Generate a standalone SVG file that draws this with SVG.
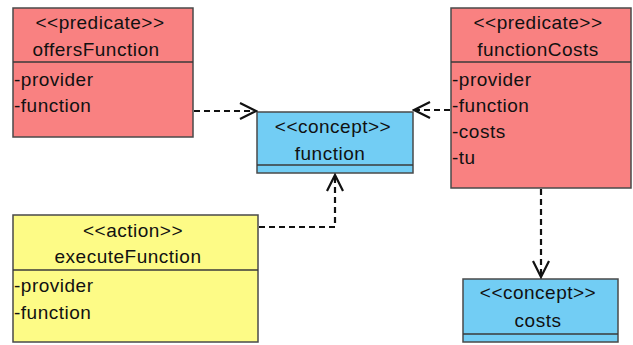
<svg xmlns="http://www.w3.org/2000/svg" width="633" height="345" viewBox="0 0 633 345">
  <style>
    .box { stroke: #4a4a4a; stroke-width: 1.5; }
    .pred { fill: #f98181; }
    .concept { fill: #72cdf4; }
    .action { fill: #fdfb86; }
    .sep { stroke: #3a3a3a; stroke-width: 1.5; fill: none; }
    text { font-family: "Liberation Sans", Arial, sans-serif; font-size: 19px; letter-spacing: 0.5px; fill: #111; }
    .c { text-anchor: middle; }
    .dep { stroke: #111; stroke-width: 2.2; stroke-dasharray: 6 4; fill: none; }
    .head { stroke: #111; stroke-width: 2.2; fill: none; }
  </style>
  <defs>
    <marker id="open" viewBox="0 0 20 20" refX="18" refY="10" markerWidth="20" markerHeight="20" markerUnits="userSpaceOnUse" orient="auto">
      <path d="M2 2 L18 10 L2 18" class="head"/>
    </marker>
  </defs>

  <g id="offersFunction">
    <rect class="box pred" x="13" y="8" width="180" height="129"/>
    <line class="sep" x1="13" y1="62" x2="193" y2="62"/>
    <text class="c" x="100" y="29">&lt;&lt;predicate&gt;&gt;</text>
    <text class="c" x="96" y="56">offersFunction</text>
    <text x="14" y="86">-provider</text>
    <text x="14" y="112">-function</text>
  </g>

  <g id="functionCosts">
    <rect class="box pred" x="451" y="8" width="180" height="180"/>
    <line class="sep" x1="451" y1="62" x2="631" y2="62"/>
    <text class="c" x="538" y="29">&lt;&lt;predicate&gt;&gt;</text>
    <text class="c" x="538" y="56">functionCosts</text>
    <text x="452" y="86">-provider</text>
    <text x="452" y="112">-function</text>
    <text x="452" y="138">-costs</text>
    <text x="452" y="164">-tu</text>
  </g>

  <g id="function">
    <rect class="box concept" x="257" y="112" width="156" height="61"/>
    <line class="sep" x1="257" y1="165" x2="413" y2="165"/>
    <text class="c" x="333" y="133">&lt;&lt;concept&gt;&gt;</text>
    <text class="c" x="330" y="160">function</text>
  </g>

  <g id="executeFunction">
    <rect class="box action" x="13" y="215" width="245" height="127"/>
    <line class="sep" x1="13" y1="270" x2="258" y2="270"/>
    <text class="c" x="133" y="237">&lt;&lt;action&gt;&gt;</text>
    <text class="c" x="128" y="263">executeFunction</text>
    <text x="14" y="292">-provider</text>
    <text x="14" y="319">-function</text>
  </g>

  <g id="costs">
    <rect class="box concept" x="463" y="279" width="155" height="63"/>
    <line class="sep" x1="463" y1="334" x2="618" y2="334"/>
    <text class="c" x="538" y="299">&lt;&lt;concept&gt;&gt;</text>
    <text class="c" x="538" y="327">costs</text>
  </g>

  <g id="connectors">
    <path class="dep" d="M194 111 H256" marker-end="url(#open)"/>
    <path class="dep" d="M450 110 H414" marker-end="url(#open)"/>
    <path class="dep" d="M259 227 H335 V175" marker-end="url(#open)"/>
    <path class="dep" d="M541 189 V277" marker-end="url(#open)"/>
  </g>
</svg>
